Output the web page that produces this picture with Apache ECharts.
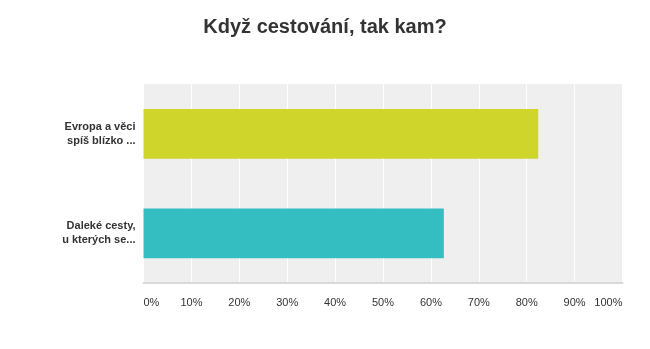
<!DOCTYPE html>
<html><head><meta charset="utf-8">
<script src="https://cdn.jsdelivr.net/npm/echarts@6/dist/echarts.min.js"></script>
<style>html,body{margin:0;padding:0;background:#fff}#c{width:650px;height:349px}</style>
</head><body><div id="c"></div>
<script>
const title = 'Když cestování, tak kam?';
const categories = ['Evropa a věci\nspíš blízko ...', 'Daleké cesty,\nu kterých se...'];
const values = [82.4, 62.7];
const barColors = ['#cfd52a', '#35bec1'];
const tickMax = 100;
const tickStep = 10;

const chart = echarts.init(document.getElementById('c'));
chart.setOption({
  animation: false,
  title: {text: title, left: 'center', top: 12,
    textStyle: {fontFamily: 'Liberation Sans', fontSize: 20, fontWeight: 'bold', color: '#333'}},
  grid: {left: 143.5, right: 27.5, top: 84, bottom: 66, show: true, backgroundColor: '#efefef', borderWidth: 0},
  xAxis: {type: 'value', min: 0, max: tickMax, interval: tickStep,
    axisLine: {show: true, lineStyle: {color: '#d9d9d9', width: 2}}, axisTick: {show: false},
    splitLine: {show: true, lineStyle: {color: '#ffffff', width: 1}},
    axisLabel: {formatter: v => v + '%', margin: 14, fontFamily: 'Liberation Sans', fontSize: 11, color: '#333',
      alignMinLabel: 'left', alignMaxLabel: 'right'}},
  yAxis: {type: 'category', data: categories, inverse: true,
    axisLine: {show: false},
    axisTick: {show: false},
    axisLabel: {margin: 8, fontFamily: 'Liberation Sans', fontSize: 11, fontWeight: 'bold', color: '#333', lineHeight: 14, align: 'right'}},
  series: [{type: 'bar', barWidth: '50%',
    data: values.map((v, i) => ({value: v, itemStyle: {color: barColors[i]}}))}]
});
</script></body></html>
